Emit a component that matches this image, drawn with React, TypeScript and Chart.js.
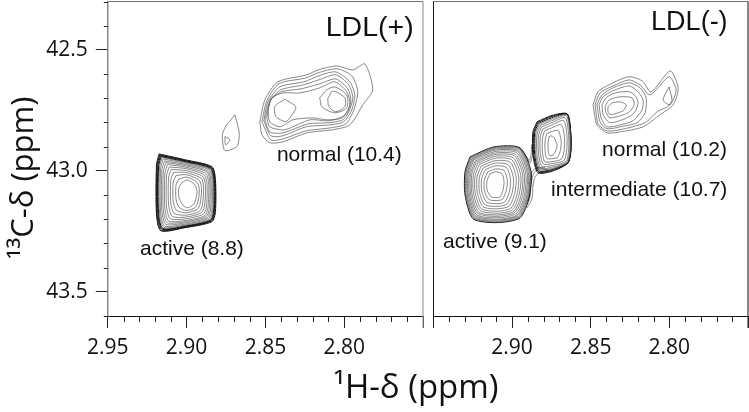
import React, { useEffect, useRef } from "react";
import { Chart, registerables } from "chart.js";

Chart.register(...registerables);

type Contour = number[][];

const xMajorLabels = [2.95, 2.9, 2.85, 2.8];
const xMajorLabelsRight = [2.9, 2.85, 2.8];
const yMajorLabels = [42.5, 43.0, 43.5];

const activePlus: Contour[] = [
  [[2.903,43.049],[2.8995,43.037],[2.8947,43.058],[2.8934,43.086],[2.8947,43.128],[2.8966,43.144],[2.8998,43.153],[2.903,43.136],[2.9049,43.107],[2.9049,43.07]],
  [[2.9049,43.034],[2.8997,43.026],[2.8933,43.048],[2.8919,43.08],[2.893,43.133],[2.8949,43.153],[2.9,43.164],[2.9047,43.151],[2.9067,43.117],[2.9067,43.058]],
  [[2.9066,43.019],[2.8999,43.016],[2.892,43.039],[2.8905,43.074],[2.8915,43.138],[2.8934,43.16],[2.9001,43.173],[2.9063,43.164],[2.9085,43.126],[2.9085,43.046]],
  [[2.9082,43.006],[2.9001,43.007],[2.8908,43.031],[2.8892,43.068],[2.89,43.143],[2.892,43.168],[2.9003,43.183],[2.9078,43.176],[2.91,43.134],[2.91,43.036]],
  [[2.9097,42.994],[2.9002,42.999],[2.8897,43.024],[2.888,43.063],[2.8887,43.147],[2.8908,43.174],[2.9004,43.191],[2.9091,43.188],[2.9114,43.141],[2.9114,43.026]],
  [[2.911,42.984],[2.9004,42.991],[2.8888,43.017],[2.887,43.059],[2.8875,43.151],[2.8896,43.18],[2.9005,43.198],[2.9103,43.198],[2.9127,43.148],[2.9127,43.018]],
  [[2.9121,42.974],[2.9005,42.985],[2.8879,43.011],[2.886,43.055],[2.8865,43.154],[2.8886,43.186],[2.9006,43.205],[2.9114,43.207],[2.9138,43.154],[2.9138,43.01]],
  [[2.9131,42.966],[2.9006,42.979],[2.8871,43.005],[2.8852,43.052],[2.8856,43.157],[2.8877,43.19],[2.9007,43.21],[2.9123,43.214],[2.9148,43.159],[2.9148,43.004]],
  [[2.914,42.959],[2.9007,42.974],[2.8865,43.001],[2.8845,43.05],[2.8848,43.159],[2.8869,43.194],[2.9008,43.215],[2.9131,43.221],[2.9157,43.163],[2.9157,42.998]],
  [[2.9149,42.951],[2.9008,42.969],[2.8858,42.996],[2.8838,43.046],[2.884,43.162],[2.8862,43.198],[2.9009,43.22],[2.9139,43.228],[2.9165,43.168],[2.9165,42.992]],
  [[2.9156,42.945],[2.9009,42.965],[2.8853,42.993],[2.8832,43.043],[2.8834,43.164],[2.8855,43.201],[2.9009,43.224],[2.9146,43.233],[2.9172,43.171],[2.9172,42.987]],
  [[2.9162,42.941],[2.901,42.962],[2.8849,42.99],[2.8828,43.041],[2.8829,43.166],[2.885,43.204],[2.901,43.228],[2.9151,43.238],[2.9178,43.174],[2.9178,42.984]],
  [[2.9166,42.937],[2.901,42.959],[2.8845,42.988],[2.8824,43.04],[2.8825,43.167],[2.8847,43.206],[2.901,43.23],[2.9155,43.241],[2.9182,43.177],[2.9182,42.981]],
  [[2.917,42.934],[2.9011,42.957],[2.8842,42.985],[2.882,43.038],[2.8821,43.168],[2.8843,43.208],[2.9011,43.233],[2.9159,43.245],[2.9187,43.179],[2.9187,42.978]],
  [[2.9175,42.93],[2.9011,42.954],[2.8839,42.983],[2.8817,43.037],[2.8817,43.169],[2.8839,43.21],[2.9011,43.235],[2.9163,43.248],[2.9191,43.181],[2.9191,42.975]],
];

const minorPeakPlus: Contour[] = [
  [[2.8694,42.768],[2.8666,42.844],[2.8681,42.899],[2.8757,42.916],[2.8773,42.851],[2.8746,42.81],[2.8719,42.789]],
  [[2.8757,42.858],[2.8725,42.872],[2.8753,42.892]],
];

const normalPlus: Contour[] = [
  [[2.8535,42.797],[2.8503,42.7065],[2.8421,42.632],[2.8237,42.603],[2.8167,42.583],[2.8047,42.566],[2.7945,42.583],[2.7869,42.558],[2.7819,42.665],[2.7882,42.727],[2.7964,42.81],[2.8072,42.83],[2.8237,42.843],[2.8389,42.88],[2.8472,42.884],[2.8522,42.851]],
  [[2.8522,42.797],[2.8491,42.711],[2.8415,42.64],[2.8243,42.616],[2.8167,42.595],[2.8047,42.578],[2.7952,42.607],[2.7914,42.673],[2.7939,42.748],[2.799,42.806],[2.8085,42.822],[2.8243,42.835],[2.8389,42.868],[2.8465,42.872]],
  [[2.851,42.793],[2.8484,42.715],[2.8408,42.653],[2.8256,42.632],[2.8161,42.607],[2.8053,42.591],[2.7964,42.632],[2.7933,42.686],[2.7952,42.748],[2.8003,42.797],[2.8091,42.81],[2.8243,42.818],[2.8389,42.855],[2.8465,42.855]],
  [[2.8503,42.789],[2.8472,42.711],[2.8402,42.665],[2.8262,42.645],[2.8161,42.624],[2.8053,42.603],[2.7971,42.645],[2.7945,42.698],[2.7971,42.756],[2.8009,42.789],[2.8098,42.801],[2.8231,42.806],[2.8389,42.843],[2.8472,42.839]],
  [[2.8491,42.781],[2.8465,42.707],[2.8396,42.673],[2.8275,42.661],[2.8155,42.64],[2.8053,42.62],[2.7977,42.661],[2.7958,42.711],[2.799,42.768],[2.8098,42.793],[2.8218,42.789],[2.8377,42.83],[2.8472,42.818]],
  [[2.8484,42.748],[2.8459,42.698],[2.8389,42.678],[2.8281,42.678],[2.8155,42.657],[2.806,42.632],[2.7984,42.673],[2.7964,42.727],[2.8015,42.781],[2.811,42.789],[2.8199,42.781],[2.8326,42.789],[2.8408,42.818],[2.8472,42.797]],
  [[2.8155,42.698],[2.811,42.665],[2.806,42.653],[2.7984,42.686],[2.7984,42.74],[2.806,42.76],[2.8142,42.735]],
  [[2.8104,42.702],[2.8079,42.673],[2.8053,42.673],[2.7996,42.698],[2.7996,42.735],[2.8053,42.756],[2.8098,42.735]],
  [[2.8377,42.704],[2.8307,42.735],[2.8326,42.764],[2.837,42.796],[2.8434,42.775],[2.844,42.734]],
];

const activeMinus: Contour[] = [
  [[2.914,43.012],[2.9102,43.004],[2.9064,43.012],[2.9051,43.045],[2.9057,43.078],[2.9076,43.107],[2.9096,43.111],[2.9134,43.107],[2.9159,43.078],[2.9159,43.041]],
  [[2.9155,43.004],[2.9104,42.992],[2.905,42.999],[2.903,43.04],[2.9037,43.082],[2.9061,43.117],[2.9096,43.123],[2.9148,43.118],[2.9176,43.081],[2.9176,43.037]],
  [[2.917,42.995],[2.9105,42.979],[2.9036,42.986],[2.901,43.035],[2.9017,43.086],[2.9046,43.128],[2.9096,43.136],[2.9161,43.129],[2.9193,43.083],[2.9193,43.032]],
  [[2.9184,42.988],[2.9107,42.968],[2.9024,42.975],[2.8991,43.031],[2.8999,43.09],[2.9032,43.137],[2.9096,43.147],[2.9174,43.139],[2.9208,43.085],[2.9208,43.028]],
  [[2.9197,42.981],[2.9108,42.958],[2.9012,42.964],[2.8974,43.027],[2.8983,43.093],[2.9019,43.146],[2.9096,43.157],[2.9185,43.148],[2.9222,43.087],[2.9222,43.024]],
  [[2.9209,42.974],[2.9109,42.948],[2.9002,42.954],[2.8958,43.023],[2.8968,43.096],[2.9007,43.154],[2.9095,43.167],[2.9196,43.156],[2.9235,43.089],[2.9235,43.021]],
  [[2.9219,42.969],[2.911,42.94],[2.8993,42.946],[2.8944,43.02],[2.8955,43.098],[2.8997,43.161],[2.9095,43.175],[2.9205,43.163],[2.9246,43.091],[2.9246,43.018]],
  [[2.9228,42.964],[2.9111,42.933],[2.8985,42.938],[2.8932,43.017],[2.8943,43.101],[2.8988,43.167],[2.9095,43.182],[2.9213,43.17],[2.9256,43.092],[2.9256,43.015]],
  [[2.9235,42.96],[2.9112,42.927],[2.8978,42.932],[2.8922,43.014],[2.8933,43.103],[2.8981,43.172],[2.9095,43.188],[2.922,43.175],[2.9264,43.094],[2.9264,43.013]],
  [[2.9243,42.955],[2.9113,42.921],[2.8971,42.925],[2.8912,43.012],[2.8923,43.105],[2.8973,43.177],[2.9095,43.194],[2.9226,43.181],[2.9272,43.095],[2.9272,43.011]],
  [[2.9249,42.952],[2.9113,42.915],[2.8965,42.92],[2.8903,43.01],[2.8915,43.106],[2.8967,43.182],[2.9095,43.2],[2.9232,43.185],[2.9279,43.096],[2.9279,43.009]],
  [[2.9254,42.949],[2.9114,42.911],[2.896,42.916],[2.8896,43.008],[2.8908,43.108],[2.8962,43.185],[2.9095,43.204],[2.9237,43.189],[2.9285,43.097],[2.9285,43.008]],
  [[2.9259,42.946],[2.9114,42.907],[2.8956,42.911],[2.8889,43.006],[2.8902,43.109],[2.8957,43.189],[2.9095,43.208],[2.9241,43.193],[2.9291,43.098],[2.9291,43.006]],
  [[2.9263,42.944],[2.9115,42.904],[2.8952,42.908],[2.8884,43.005],[2.8897,43.11],[2.8953,43.191],[2.9095,43.211],[2.9245,43.195],[2.9295,43.098],[2.9295,43.005]],
  [[2.9267,42.942],[2.9115,42.901],[2.8949,42.905],[2.8879,43.004],[2.8892,43.111],[2.8949,43.194],[2.9095,43.214],[2.9248,43.198],[2.9299,43.099],[2.9299,43.004]],
];

const intermediateMinus: Contour[] = [
  [[2.8765,42.859],[2.8752,42.855],[2.8733,42.863],[2.8714,42.892],[2.872,42.913],[2.8739,42.934],[2.8752,42.938],[2.8765,42.934],[2.8771,42.913],[2.8771,42.884]],
  [[2.878,42.847],[2.8751,42.838],[2.8708,42.833],[2.8688,42.873],[2.8692,42.913],[2.8711,42.944],[2.8749,42.95],[2.8779,42.949],[2.879,42.917],[2.879,42.875]],
  [[2.8794,42.835],[2.875,42.823],[2.8687,42.809],[2.8667,42.858],[2.8668,42.913],[2.8687,42.952],[2.8747,42.962],[2.8792,42.962],[2.8807,42.921],[2.8807,42.867]],
  [[2.8805,42.827],[2.8749,42.811],[2.8673,42.792],[2.8652,42.847],[2.8652,42.913],[2.8671,42.958],[2.8745,42.97],[2.8801,42.972],[2.8821,42.924],[2.8821,42.861]],
  [[2.8814,42.819],[2.8748,42.801],[2.8663,42.78],[2.8642,42.838],[2.864,42.913],[2.8659,42.962],[2.8744,42.978],[2.881,42.981],[2.8832,42.926],[2.8832,42.855]],
  [[2.8821,42.813],[2.8748,42.793],[2.8657,42.772],[2.8635,42.833],[2.8633,42.913],[2.8652,42.964],[2.8742,42.984],[2.8817,42.989],[2.8842,42.929],[2.8842,42.851]],
  [[2.8827,42.808],[2.8747,42.786],[2.8653,42.768],[2.8631,42.832],[2.8629,42.913],[2.8648,42.966],[2.8741,42.989],[2.8822,42.995],[2.885,42.93],[2.885,42.847]],
  [[2.8833,42.804],[2.8747,42.78],[2.8651,42.766],[2.863,42.831],[2.8627,42.913],[2.8646,42.966],[2.874,42.993],[2.8827,43.0],[2.8856,42.932],[2.8856,42.843]],
  [[2.8837,42.8],[2.8746,42.775],[2.865,42.765],[2.8629,42.83],[2.8626,42.913],[2.8645,42.967],[2.874,42.997],[2.8832,43.004],[2.8862,42.933],[2.8862,42.841]],
  [[2.8841,42.797],[2.8746,42.771],[2.865,42.764],[2.8628,42.83],[2.8625,42.913],[2.8644,42.967],[2.8739,43.0],[2.8835,43.008],[2.8867,42.934],[2.8867,42.839]],
];

const bridgeMinus: Contour[] = [
  [[2.8746,43.004],[2.8816,43.004],[2.8854,43.025],[2.8867,43.062],[2.8873,43.115],[2.8905,43.153]],
  [[2.8771,42.996],[2.8829,42.991],[2.886,43.008],[2.8879,43.049],[2.8886,43.111],[2.8905,43.14]],
  [[2.879,42.987],[2.8841,42.987],[2.8873,43.004],[2.8886,43.045],[2.8892,43.103],[2.8905,43.128]],
  [[2.8867,42.88],[2.887,42.938],[2.8886,42.967],[2.8905,42.946],[2.8949,42.909]],
  [[2.8876,42.892],[2.8879,42.934],[2.8892,42.958],[2.8911,42.938],[2.8956,42.905]],
];

const normalMinus: Contour[] = [
  [[2.8485,42.727],[2.8453,42.673],[2.8358,42.636],[2.8256,42.611],[2.8173,42.628],[2.8116,42.673],[2.7995,42.587],[2.7944,42.657],[2.7976,42.727],[2.8059,42.768],[2.8167,42.818],[2.8313,42.839],[2.8396,42.843],[2.846,42.81]],
  [[2.8472,42.727],[2.8441,42.678],[2.8358,42.649],[2.8256,42.624],[2.8186,42.645],[2.8122,42.686],[2.8002,42.611],[2.7957,42.665],[2.7995,42.727],[2.8078,42.756],[2.8154,42.801],[2.8313,42.83],[2.8396,42.835],[2.8453,42.806]],
  [[2.846,42.727],[2.8428,42.686],[2.8358,42.657],[2.8256,42.636],[2.8186,42.657],[2.8148,42.698],[2.8154,42.76],[2.8205,42.801],[2.8313,42.818],[2.8396,42.826],[2.8441,42.797]],
  [[2.8447,42.727],[2.8421,42.694],[2.8358,42.669],[2.8256,42.649],[2.8199,42.673],[2.8167,42.707],[2.8173,42.748],[2.8231,42.793],[2.8313,42.81],[2.8396,42.818],[2.8434,42.781]],
  [[2.8428,42.727],[2.8402,42.698],[2.8345,42.678],[2.8256,42.673],[2.8212,42.694],[2.8199,42.719],[2.8218,42.756],[2.8269,42.781],[2.8377,42.801],[2.8421,42.768]],
  [[2.8409,42.735],[2.8383,42.707],[2.8313,42.694],[2.8237,42.698],[2.8224,42.727],[2.8262,42.76],[2.8377,42.781],[2.8402,42.76]],
  [[2.839,42.735],[2.8364,42.719],[2.8313,42.715],[2.8275,42.727],[2.8294,42.752],[2.8377,42.768],[2.839,42.756]],
  [[2.8002,42.653],[2.7983,42.707],[2.8002,42.727],[2.804,42.707]],
];

const annotationsPlus = ["LDL(+)", "normal (10.4)", "active (8.8)"];
const annotationsPlusX = [2.8117, 2.8427, 2.9296];
const annotationsPlusY = [42.442, 42.958, 43.346];
const annotationsPlusSize = [28.5, 21, 21];

const annotationsMinus = ["LDL(-)", "normal (10.2)", "intermediate (10.7)", "active (9.1)"];
const annotationsMinusX = [2.8116, 2.8428, 2.8752, 2.9439];
const annotationsMinusY = [42.417, 42.938, 43.103, 43.317];
const annotationsMinusSize = [27, 21, 21, 21];

const xTitle = "\u00B9H-\u03B4 (ppm)";
const yTitle = "\u00B9\u00B3C-\u03B4 (ppm)";

const LABEL_FONT = '"Open Sans", sans-serif';
const NOTE_FONT = '"Liberation Sans", Arial, sans-serif';

const close = (c: Contour) => [...c, c[0]];

function toDatasets(groups: { contours: Contour[]; closed: boolean; edgeFrom?: number }[]) {
  const out: any[] = [];
  groups.forEach((g) => {
    g.contours.forEach((c, i) => {
      const pts = g.closed ? close(c) : c;
      const edge = g.edgeFrom !== undefined && i >= g.edgeFrom;
      out.push({
        data: pts.map(([x, y]) => ({ x, y })),
        showLine: true,
        pointRadius: 0,
        borderWidth: edge ? 1 : 0.7,
        borderColor: edge ? "#111" : "#555",
        tension: 0.25,
        fill: false,
      });
    });
  });
  return out;
}

const rnd = (v: number, d: number) => Number(v.toFixed(d));

function panelPlugin(texts: string[], xs: number[], ys: number[], sizes: number[], leftColor: string, withTitles: boolean) {
  return {
    id: "panelDecor",
    afterDraw(chart: any) {
      const { ctx, chartArea: a, scales } = chart;
      ctx.save();
      ctx.strokeStyle = "#777";
      ctx.lineWidth = 1;
      ctx.beginPath();
      ctx.moveTo(a.left, a.top);
      ctx.lineTo(a.right, a.top);
      ctx.stroke();
      ctx.strokeStyle = leftColor;
      ctx.lineWidth = 1.2;
      ctx.beginPath();
      ctx.moveTo(a.right, a.top);
      ctx.lineTo(a.right, a.bottom + 12);
      ctx.stroke();
      ctx.strokeStyle = "#222";
      ctx.lineWidth = 1;
      scales.x.ticks.forEach((t: any) => {
        if (Math.round(t.value * 100) % 5 !== 0) {
          const px = Math.round(scales.x.getPixelForValue(t.value)) + 0.5;
          ctx.beginPath();
          ctx.moveTo(px, a.bottom);
          ctx.lineTo(px, a.bottom + 6);
          ctx.stroke();
        }
      });
      if (withTitles) {
        scales.y.ticks.forEach((t: any) => {
          if (Math.round(t.value * 10) % 5 !== 0) {
            const py = Math.round(scales.y.getPixelForValue(t.value)) + 0.5;
            ctx.beginPath();
            ctx.moveTo(a.left - 4, py);
            ctx.lineTo(a.left, py);
            ctx.stroke();
          }
        });
      }
      ctx.fillStyle = "#111";
      ctx.textAlign = "left";
      ctx.textBaseline = "alphabetic";
      texts.forEach((s, i) => {
        ctx.font = `${sizes[i]}px ${NOTE_FONT}`;
        ctx.fillText(s, scales.x.getPixelForValue(xs[i]), scales.y.getPixelForValue(ys[i]));
      });
      if (withTitles) {
        ctx.textAlign = "center";
        ctx.font = `33px ${LABEL_FONT}`;
        ctx.fillText(xTitle, 416, 398);
        ctx.font = `31px ${LABEL_FONT}`;
        ctx.translate(33, 178);
        ctx.rotate(-Math.PI / 2);
        ctx.fillText(yTitle, 0, 0);
      }
      ctx.restore();
    },
  };
}

const zeroPadding = (s: any) => {
  s.paddingTop = 0;
  s.paddingBottom = 0;
  s.paddingLeft = 0;
  s.paddingRight = 0;
};

function scalesFor(left: boolean, xLabels: number[]) {
  return {
    x: {
      type: "linear",
      reverse: true,
      min: 2.75,
      max: 2.95,
      border: { display: true, color: "#111", width: 1 },
      grid: {
        drawOnChartArea: false,
        drawTicks: true,
        tickLength: 12,
        tickWidth: 1,
        tickColor: (c: any) =>
          c.tick && Math.round(c.tick.value * 100) % 5 === 0 ? "#222" : "rgba(0,0,0,0)",
      },
      ticks: {
        stepSize: 0.01,
        autoSkip: false,
        maxRotation: 0,
        minRotation: 0,
        padding: 7,
        color: "#111",
        font: { family: LABEL_FONT, size: 21 },
        callback: (v: any) => (xLabels.includes(rnd(Number(v), 2)) ? Number(v).toFixed(2) : ""),
      },
      afterFit: (s: any) => {
        s.height = 96;
        zeroPadding(s);
      },
    },
    y: {
      type: "linear",
      reverse: true,
      min: 42.3,
      max: 43.6,
      border: { display: true, color: left ? "#888" : "#111", width: left ? 1.5 : 1 },
      grid: {
        drawOnChartArea: false,
        drawTicks: left,
        tickLength: 12,
        tickColor: (c: any) =>
          c.tick && Math.round(c.tick.value * 10) % 5 === 0 ? "#222" : "rgba(0,0,0,0)",
      },
      ticks: {
        display: left,
        stepSize: 0.1,
        autoSkip: false,
        padding: 8,
        color: "#111",
        font: { family: LABEL_FONT, size: 21 },
        callback: (v: any) => (yMajorLabels.includes(rnd(Number(v), 1)) ? Number(v).toFixed(1) : ""),
      },
      afterFit: (s: any) => {
        s.width = left ? 107.8 : 0;
        zeroPadding(s);
      },
    },
  };
}

export default function App() {
  const leftRef = useRef<HTMLCanvasElement>(null);
  const rightRef = useRef<HTMLCanvasElement>(null);

  useEffect(() => {
    const base = {
      responsive: false,
      animation: false,
      parsing: false,
      plugins: { legend: { display: false }, title: { display: false }, tooltip: { enabled: false } },
    };
    const left = new Chart(leftRef.current as HTMLCanvasElement, {
      type: "scatter",
      data: {
        datasets: toDatasets([
          { contours: activePlus, closed: true, edgeFrom: 11 },
          { contours: minorPeakPlus, closed: true },
          { contours: normalPlus, closed: true },
        ]),
      },
      options: {
        ...base,
        layout: { padding: { left: 0, right: 326, top: 1.5, bottom: 0 } },
        scales: scalesFor(true, xMajorLabels),
      },
      plugins: [panelPlugin(annotationsPlus, annotationsPlusX, annotationsPlusY, annotationsPlusSize, "#999", true)],
    } as any);
    const right = new Chart(rightRef.current as HTMLCanvasElement, {
      type: "scatter",
      data: {
        datasets: toDatasets([
          { contours: activeMinus, closed: true, edgeFrom: 14 },
          { contours: intermediateMinus, closed: true, edgeFrom: 7 },
          { contours: bridgeMinus, closed: false },
          { contours: normalMinus, closed: true },
        ]),
      },
      options: {
        ...base,
        layout: { padding: { left: 433.4, right: 1, top: 1.5, bottom: 0 } },
        scales: scalesFor(false, xMajorLabelsRight),
      },
      plugins: [panelPlugin(annotationsMinus, annotationsMinusX, annotationsMinusY, annotationsMinusSize, "#333", false)],
    } as any);
    return () => {
      left.destroy();
      right.destroy();
    };
  }, []);

  const canvasStyle: React.CSSProperties = { position: "absolute", left: 0, top: 0, display: "block" };
  return (
    <div style={{ position: "absolute", left: 0, top: 0, width: 749, height: 412, background: "#fff" }}>
      <canvas ref={leftRef} width={749} height={412} style={canvasStyle} />
      <canvas ref={rightRef} width={749} height={412} style={canvasStyle} />
    </div>
  );
}
